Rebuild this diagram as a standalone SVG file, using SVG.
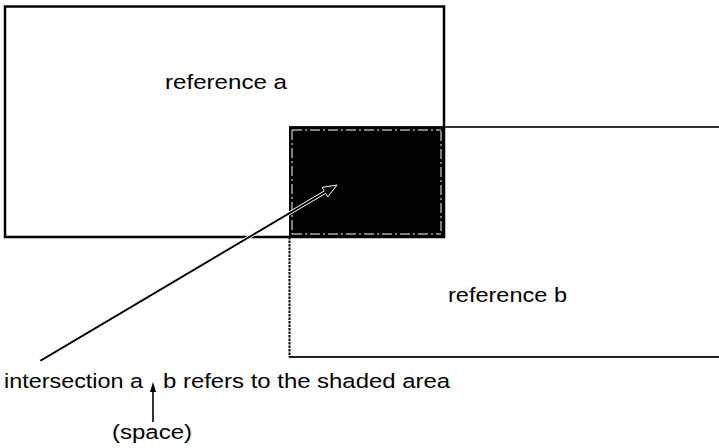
<svg xmlns="http://www.w3.org/2000/svg" width="719" height="448" viewBox="0 0 719 448">
<style>
.lbl{font-family:"Liberation Sans",Arial,Helvetica,sans-serif;font-size:20.5px;fill:#000}
.edge{fill:none;stroke:#000;stroke-width:2.5}
</style>
<defs>
<marker id="up" viewBox="0 0 10 6" refX="0" refY="3" markerWidth="10" markerHeight="6" orient="auto" markerUnits="userSpaceOnUse">
<path d="M0,0 L10,3 L0,6 z" fill="#000"/>
</marker>
</defs>
<rect width="719" height="448" fill="#fff"/>
<g id="reference-a">
<rect class="edge" x="5" y="6.5" width="439" height="230.5"/>
<text class="lbl" x="165" y="89" textLength="122" lengthAdjust="spacingAndGlyphs">reference a</text>
</g>
<g id="reference-b">
<path d="M721,127 H289" fill="none" stroke="#333" stroke-width="1.8"/>
<path d="M289.5,237 V357" fill="none" stroke="#000" stroke-width="2" stroke-dasharray="2.5 1"/>
<path d="M289,357 H721" fill="none" stroke="#222" stroke-width="2.2"/>
<text class="lbl" x="448" y="302" textLength="119" lengthAdjust="spacingAndGlyphs">reference b</text>
</g>
<g id="intersection">
<rect x="289" y="126.5" width="155.5" height="111" fill="#000"/>
<path d="M292,130 H441 M441,131 V234 M292,130 V234 M292,234 H441" fill="none" stroke="#fff" stroke-width="1" stroke-dasharray="10 3 2 3"/>
</g>
<g id="connectors">
<polygon points="39.29,359.80 324.25,190.94 322.16,187.41 337,185 327.76,196.87 325.67,193.34 40.71,362.20" fill="#000" stroke="#fff" stroke-width="1"/>
<line x1="153" y1="422" x2="153" y2="392" stroke="#000" stroke-width="1.6" marker-end="url(#up)"/>
</g>
<g id="caption">
<text class="lbl" x="4" y="388" textLength="139" lengthAdjust="spacingAndGlyphs">intersection a</text>
<text class="lbl" x="163" y="388" textLength="287" lengthAdjust="spacingAndGlyphs">b refers to the shaded area</text>
<text class="lbl" x="112" y="439" textLength="80" lengthAdjust="spacingAndGlyphs">(space)</text>
</g>
</svg>
